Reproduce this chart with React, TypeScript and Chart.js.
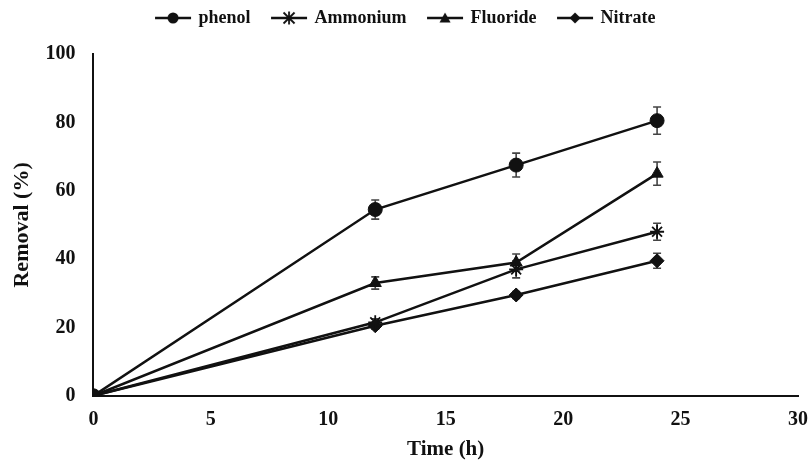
import React, { useEffect, useRef } from "react";
import { Chart, registerables } from "chart.js";

Chart.register(...registerables);

const times = [0, 12, 18, 24];
const seriesNames = ["phenol", "Ammonium", "Fluoride", "Nitrate"];
const phenol = [0, 54.5, 67.5, 80.5];
const ammonium = [0, 21.5, 37, 48];
const fluoride = [0, 33, 39, 65];
const nitrate = [0, 20.5, 29.5, 39.5];
const phenolErr = [0, 2.8, 3.5, 4];
const ammoniumErr = [0, 1, 2.5, 2.5];
const fluorideErr = [0, 1.8, 2.5, 3.4];
const nitrateErr = [0, 1, 1, 2.2];
const xTicks = [0, 5, 10, 15, 20, 25, 30];
const yTicks = [0, 20, 40, 60, 80, 100];

const INK = "#111111";
const FONT = "'Liberation Serif', 'Times New Roman', serif";

function legendIcon(style: string): HTMLCanvasElement {
  const c = document.createElement("canvas");
  c.width = 38;
  c.height = 16;
  const ctx = c.getContext("2d")!;
  ctx.strokeStyle = INK;
  ctx.fillStyle = INK;
  ctx.lineWidth = 2.5;
  ctx.beginPath();
  ctx.moveTo(1, 8);
  ctx.lineTo(37, 8);
  ctx.stroke();
  const cx = 19, cy = 8, r = 5.5;
  ctx.beginPath();
  if (style === "circle") {
    ctx.arc(cx, cy, r, 0, Math.PI * 2);
    ctx.fill();
  } else if (style === "triangle") {
    ctx.moveTo(cx, cy - r);
    ctx.lineTo(cx + r, cy + r * 0.8);
    ctx.lineTo(cx - r, cy + r * 0.8);
    ctx.closePath();
    ctx.fill();
  } else if (style === "rectRot") {
    ctx.moveTo(cx, cy - r);
    ctx.lineTo(cx + r, cy);
    ctx.lineTo(cx, cy + r);
    ctx.lineTo(cx - r, cy);
    ctx.closePath();
    ctx.fill();
  } else {
    ctx.lineWidth = 1.8;
    ctx.moveTo(cx - r, cy - r);
    ctx.lineTo(cx + r, cy + r);
    ctx.moveTo(cx + r, cy - r);
    ctx.lineTo(cx - r, cy + r);
    ctx.moveTo(cx, cy - r - 1);
    ctx.lineTo(cx, cy + r + 1);
    ctx.stroke();
  }
  return c;
}

const errorBarPlugin = {
  id: "errorBars",
  beforeDatasetsDraw(chart: any) {
    const { ctx, scales } = chart;
    ctx.save();
    ctx.strokeStyle = "#444";
    ctx.lineWidth = 1.6;
    chart.data.datasets.forEach((ds: any) => {
      const errs: number[] = ds.errors || [];
      ds.data.forEach((p: any, i: number) => {
        const e = errs[i];
        if (!e) return;
        const x = scales.x.getPixelForValue(p.x);
        const yTop = scales.y.getPixelForValue(p.y + e);
        const yBot = scales.y.getPixelForValue(p.y - e);
        ctx.beginPath();
        ctx.moveTo(x, yTop);
        ctx.lineTo(x, yBot);
        ctx.moveTo(x - 4, yTop);
        ctx.lineTo(x + 4, yTop);
        ctx.moveTo(x - 4, yBot);
        ctx.lineTo(x + 4, yBot);
        ctx.stroke();
      });
    });
    ctx.restore();
  },
};

const legendSpacer = {
  id: "legendSpacer",
  beforeInit(chart: any) {
    const lg = chart.legend;
    if (!lg) return;
    const orig = lg.fit;
    lg.fit = function () {
      orig.call(this);
      this.height += 17;
    };
  },
};

export default function App() {
  const ref = useRef<HTMLCanvasElement>(null);
  useEffect(() => {
    document.body.style.margin = "0";
    const styles = ["circle", "star", "triangle", "rectRot"];
    const values = [phenol, ammonium, fluoride, nitrate];
    const errs = [phenolErr, ammoniumErr, fluorideErr, nitrateErr];
    const icons = styles.map(legendIcon);
    const chart = new Chart(ref.current!, {
      type: "scatter",
      data: {
        datasets: seriesNames.map((name, k) => ({
          label: name,
          data: times.map((t, i) => ({ x: t, y: values[k][i] })),
          errors: errs[k],
          showLine: true,
          borderColor: INK,
          backgroundColor: INK,
          borderWidth: 2.5,
          pointStyle: styles[k],
          pointRadius: 7,
          pointBorderWidth: styles[k] === "star" ? 1.8 : 1,
          pointBorderColor: INK,
          pointBackgroundColor: INK,
        })) as any,
      },
      options: {
        animation: false,
        responsive: false,
        layout: { padding: { left: 9, right: 9, top: -13, bottom: 4 } },
        plugins: {
          tooltip: { enabled: false },
          legend: {
            position: "top",
            labels: {
              usePointStyle: true,
              pointStyleWidth: 33,
              padding: 22,
              color: INK,
              font: { family: FONT, size: 18, weight: "bold" },
              generateLabels: (c: any) =>
                c.data.datasets.map((ds: any, i: number) => ({
                  text: ds.label,
                  pointStyle: icons[i],
                  fillStyle: INK,
                  strokeStyle: INK,
                  lineWidth: 0,
                  datasetIndex: i,
                  fontColor: INK,
                })),
            },
          },
        },
        scales: {
          x: {
            type: "linear",
            min: 0,
            max: 30,
            afterBuildTicks: (s: any) => {
              s.ticks = xTicks.map((v) => ({ value: v }));
            },
            grid: { display: false },
            border: { display: true, color: INK, width: 2 },
            ticks: {
              color: INK,
              padding: 4,
              font: { family: FONT, size: 20, weight: "bold" },
              maxRotation: 0,
            },
            title: {
              display: true,
              text: "Time (h)",
              color: INK,
              font: { family: FONT, size: 21, weight: "bold" },
              padding: { top: 1, bottom: 0 },
            },
          },
          y: {
            type: "linear",
            min: 0,
            max: 100,
            afterBuildTicks: (s: any) => {
              s.ticks = yTicks.map((v) => ({ value: v }));
            },
            grid: { display: false },
            border: { display: true, color: INK, width: 2 },
            ticks: {
              color: INK,
              padding: 10,
              font: { family: FONT, size: 20, weight: "bold" },
            },
            title: {
              display: true,
              text: "Removal (%)",
              color: INK,
              font: { family: FONT, size: 22, weight: "bold" },
              padding: { top: 0, bottom: 0 },
            },
          },
        },
      } as any,
      plugins: [errorBarPlugin, legendSpacer],
    });
    return () => chart.destroy();
  }, []);
  return <canvas ref={ref} width={812} height={466} style={{ display: "block" }} />;
}
